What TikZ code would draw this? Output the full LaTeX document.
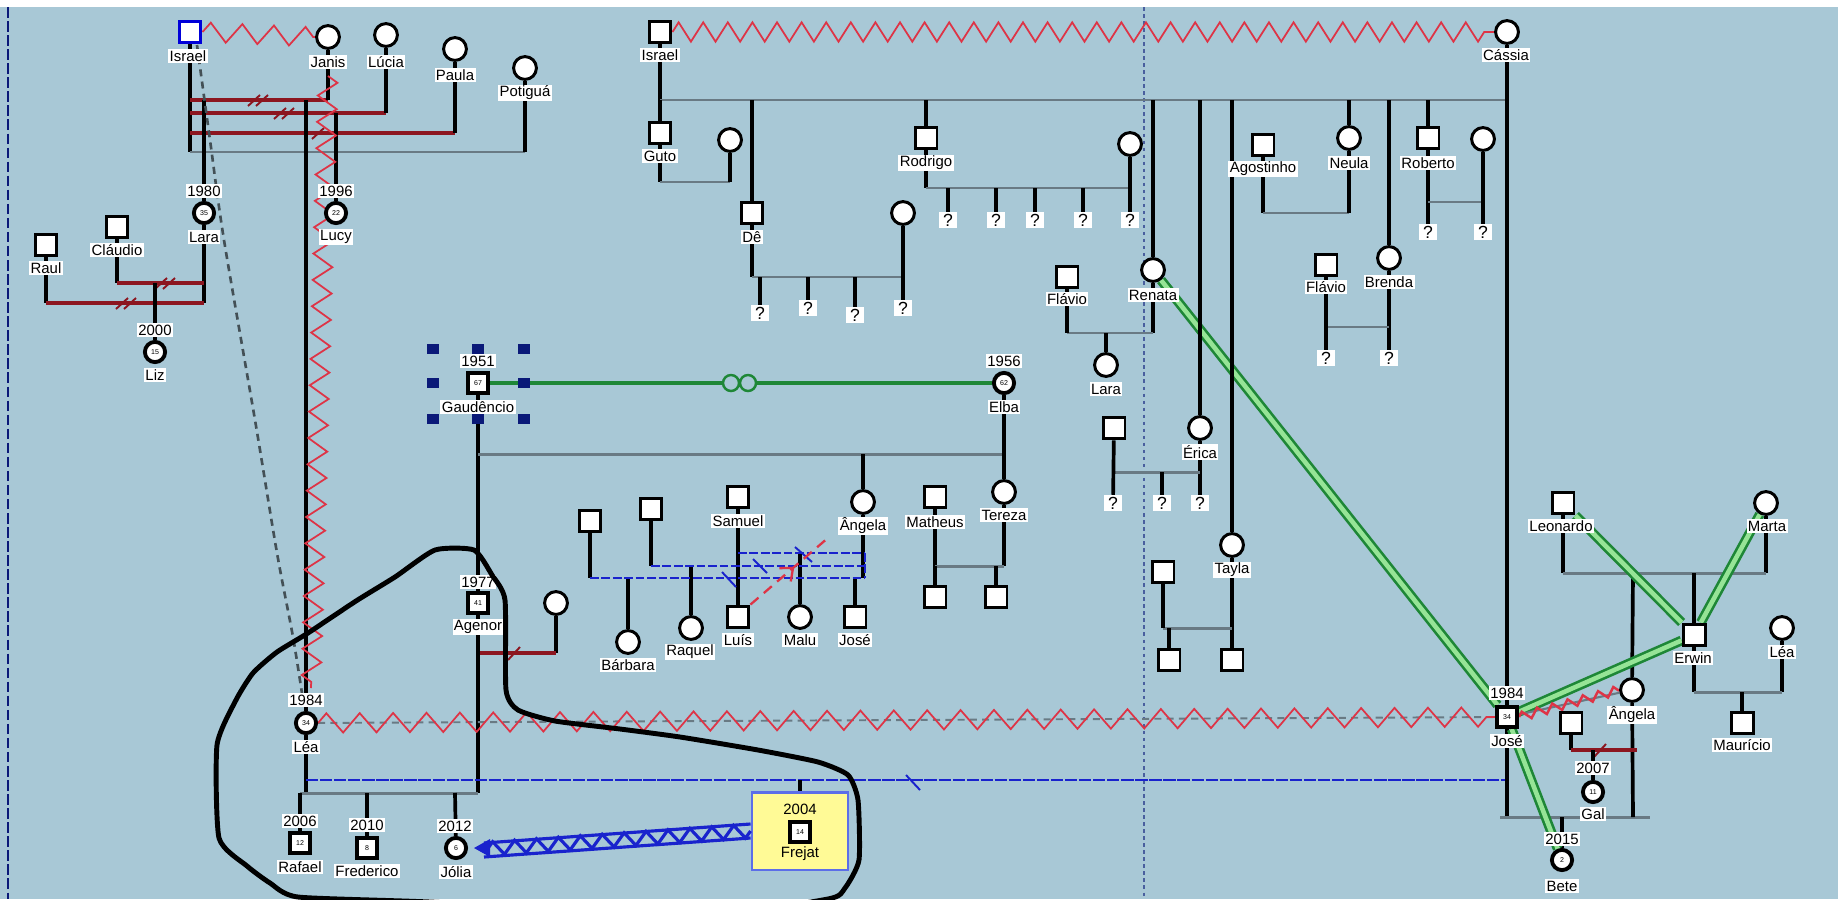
\documentclass[tikz,border=0pt]{standalone}
\usepackage{fontspec}
\setmainfont{Liberation Sans}
\usetikzlibrary{calc,decorations.pathmorphing,decorations.markings,arrows.meta}

\definecolor{azulfundo}{RGB}{168,200,214}
\definecolor{zigred}{RGB}{222,52,70}
\definecolor{casred}{RGB}{140,22,32}
\definecolor{irmgray}{RGB}{105,122,132}
\definecolor{verde}{RGB}{30,135,55}
\definecolor{verdecl}{RGB}{150,228,150}
\definecolor{azul}{RGB}{25,35,205}
\definecolor{marinho}{RGB}{10,25,120}
\definecolor{amarelo}{RGB}{255,250,150}

\pgfdeclarelayer{camadafundo}
\pgfdeclarelayer{linhas}
\pgfsetlayers{camadafundo,linhas,main}

\tikzset{
  homem/.style={draw=black, fill=white, line width=1.7pt, minimum size=12.5pt, inner sep=0pt},
  mulher/.style={homem, circle, minimum size=13pt},
  homemp/.style={homem, minimum size=11.5pt, line width=2.2pt, font=\fontsize{4}{4}\selectfont},
  mulherp/.style={homemp, circle},
  nome/.style={fill=white, inner sep=0.8pt, font=\fontsize{8.5}{9}\selectfont},
  incog/.style={fill=white, inner xsep=2.5pt, inner ysep=1pt, font=\fontsize{10}{11}\selectfont},
  filho/.style={line width=2.1pt},
  irmaos/.style={irmgray, line width=1.7pt},
  casal/.style={casred, line width=2pt},
  corte/.style={line width=1.1pt},
  conflito/.style={zigred, line width=1pt, decorate, decoration={zigzag, segment length=#1, amplitude=5.5pt}},
  conflito/.default=18pt,
  laco/.style={line width=5.6pt, draw=verde, postaction={draw=verdecl, line width=2.6pt}},
  separado/.style={azul, line width=1.5pt, dash pattern=on 5pt off 1.5pt},
  contorno/.style={line width=2.8pt, line join=round},
}

\begin{document}
\begin{tikzpicture}[x=0.02cm, y=-0.02cm, >=Stealth]
\useasboundingbox (0,0) rectangle (1838,899);

% 1. fundo
\begin{pgfonlayer}{camadafundo}
  \fill[azulfundo] (0,0) rectangle (1838,899);
  \fill[white] (0,0) rectangle (1838,7);
  \draw[marinho, line width=1.4pt, dash pattern=on 6pt off 2pt] (8,7) -- (8,899);
  \draw[marinho!60!azulfundo, line width=0.8pt, dash pattern=on 2pt off 2pt] (1144,7) -- (1144,899);
\end{pgfonlayer}

% 2. Israel e as mulheres (esquerda)
\node[homem, draw=blue!85!black] (israelA) at (190,32) {};
\node[nome] (israelA-n) at (188,56) {Israel};
\node[mulher] (janis) at (328,37) {};
\node[nome] (janis-n) at (328,62) {Janis};
\node[mulher] (lucia) at (386,35) {};
\node[nome] (lucia-n) at (386,62) {Lúcia};
\node[mulher] (paula) at (455,49) {};
\node[nome] (paula-n) at (455,75) {Paula};
\node[mulher] (potigua) at (525,68) {};
\node[nome] (potigua-n) at (525,93) {Potiguá};
\node[mulherp] (lara) at (204,213) {35};
\node[nome] (lara-a) at (204,191) {1980};
\node[nome] (lara-n) at (204,237) {Lara};
\node[mulherp] (lucy) at (336,213) {22};
\node[nome] (lucy-a) at (336,191) {1996};
\node[nome] (lucy-n) at (336,237) {Lucy};
\node[homem] (claudio) at (117,227) {};
\node[nome] (claudio-n) at (117,250) {Cláudio};
\node[homem] (raul) at (46,245) {};
\node[nome] (raul-n) at (46,268) {Raul};
\node[mulherp] (liz) at (155,352) {15};
\node[nome] (liz-a) at (155,330) {2000};
\node[nome] (liz-n) at (155,375) {Liz};
\node[mulherp] (lea) at (306,723) {34};
\node[nome] (lea-a) at (306,700) {1984};
\node[nome] (lea-n) at (306,747) {Léa};

% 3. Gaudêncio e Elba
\foreach \x/\y in {433/349, 478/349, 524/349, 433/383, 524/383, 433/419, 478/419, 524/419}
  \fill[marinho] (\x-6,\y-5) rectangle ++(12,10);
\node[homemp] (gaudencio) at (478,383) {67};
\node[nome] (gaudencio-a) at (478,361) {1951};
\node[nome] (gaudencio-n) at (478,407) {Gaudêncio};
\node[mulherp] (elba) at (1004,383) {62};
\node[nome] (elba-a) at (1004,361) {1956};
\node[nome] (elba-n) at (1004,407) {Elba};
\node[homemp] (agenor) at (478,603) {41};
\node[nome] (agenor-a) at (478,582) {1977};
\node[nome] (agenor-n) at (478,627) {Agenor};
\node[mulher] (agwife) at (556,603) {};
\node[mulher] (angelaA) at (863,502) {};
\node[nome] (angelaA-n) at (863,526) {Ângela};
\node[mulher] (tereza) at (1004,492) {};
\node[nome] (tereza-n) at (1004,515) {Tereza};
\node[homem] (matheus) at (935,497) {};
\node[nome] (matheus-n) at (935,522) {Matheus};
\node[homem] (mtA) at (935,597) {};
\node[homem] (mtB) at (996,597) {};
\node[homem] (barbDad) at (590,521) {};
\node[homem] (raqDad) at (651,509) {};
\node[homem] (samuel) at (738,497) {};
\node[nome] (samuel-n) at (738,521) {Samuel};
\node[mulher] (barbara) at (628,642) {};
\node[nome] (barbara-n) at (628,665) {Bárbara};
\node[mulher] (raquel) at (691,628) {};
\node[nome] (raquel-n) at (690,652) {Raquel};
\node[homem] (luis) at (738,617) {};
\node[nome] (luis-n) at (738,640) {Luís};
\node[mulher] (malu) at (800,617) {};
\node[nome] (malu-n) at (800,640) {Malu};
\node[homem] (joseA) at (855,617) {};
\node[nome] (joseA-n) at (855,640) {José};

% 4. filhos de Léa
\node[homemp] (rafael) at (300,843) {12};
\node[nome] (rafael-a) at (300,821) {2006};
\node[nome] (rafael-n) at (300,867) {Rafael};
\node[homemp] (frederico) at (367,848) {8};
\node[nome] (frederico-a) at (367,825) {2010};
\node[nome] (frederico-n) at (367,871) {Frederico};
\node[mulherp] (jolia) at (456,848) {6};
\node[nome] (jolia-a) at (455,826) {2012};
\node[nome] (jolia-n) at (456,872) {Jólia};
\node[draw=blue!45!azulfundo, fill=amarelo, line width=1.3pt, minimum width=55pt, minimum height=44pt] (frejatbox) at (800,831) {};
\node[homemp] (frejat) at (800,832) {14};
\node[font=\fontsize{8.5}{9}\selectfont] (frejat-a) at (800,809) {2004};
\node[font=\fontsize{8.5}{9}\selectfont] (frejat-n) at (800,854) {Frejat};

% 5. Israel e Cássia (topo)
\node[homem] (israelB) at (660,32) {};
\node[nome] (israelB-n) at (660,55) {Israel};
\node[mulher] (cassia) at (1507,32) {};
\node[nome] (cassia-n) at (1506,55) {Cássia};
\node[homem] (guto) at (660,133) {};
\node[nome] (guto-n) at (660,156) {Guto};
\node[mulher] (gutoW) at (730,140) {};
\node[homem] (de) at (752,213) {};
\node[nome] (de-n) at (752,237) {Dê};
\node[mulher] (deW) at (903,213) {};
\foreach \x/\y [count=\i] in {760/313, 808/308, 855/315, 903/308}
  \node[incog] (deq\i) at (\x,\y) {?};
\node[homem] (rodrigo) at (926,138) {};
\node[nome] (rodrigo-n) at (926,163) {Rodrigo};
\node[mulher] (rodW) at (1130,144) {};
\foreach \x [count=\i] in {948, 996, 1035, 1083, 1130}
  \node[incog] (rodq\i) at (\x,220) {?};
\node[mulher] (renata) at (1153,270) {};
\node[nome] (renata-n) at (1153,295) {Renata};
\node[homem] (flavioA) at (1067,277) {};
\node[nome] (flavioA-n) at (1067,299) {Flávio};
\node[mulher] (laraB) at (1106,365) {};
\node[nome] (laraB-n) at (1106,389) {Lara};
\node[mulher] (erica) at (1200,428) {};
\node[nome] (erica-n) at (1200,452) {Érica};
\node[homem] (ericaH) at (1114,428) {};
\foreach \x [count=\i] in {1113, 1162, 1200}
  \node[incog] (ericaq\i) at (\x,503) {?};
\node[mulher] (tayla) at (1232,545) {};
\node[nome] (tayla-n) at (1232,570) {Tayla};
\node[homem] (taylaH) at (1163,572) {};
\node[homem] (taylaK1) at (1169,660) {};
\node[homem] (taylaK2) at (1232,660) {};
\node[homem] (agostinho) at (1263,145) {};
\node[nome] (agostinho-n) at (1263,169) {Agostinho};
\node[mulher] (neula) at (1349,138) {};
\node[nome] (neula-n) at (1349,163) {Neula};
\node[homem] (roberto) at (1428,138) {};
\node[nome] (roberto-n) at (1428,163) {Roberto};
\node[mulher] (robW) at (1483,139) {};
\node[incog] (robq1) at (1428,232) {?};
\node[incog] (robq2) at (1483,232) {?};
\node[mulher] (brenda) at (1389,258) {};
\node[nome] (brenda-n) at (1389,282) {Brenda};
\node[homem] (flavioB) at (1326,265) {};
\node[nome] (flavioB-n) at (1326,287) {Flávio};
\node[incog] (brenq1) at (1326,358) {?};
\node[incog] (brenq2) at (1389,358) {?};

% 6. José e a família da direita
\node[homemp] (joseB) at (1507,717) {34};
\node[nome] (joseB-a) at (1507,693) {1984};
\node[nome] (joseB-n) at (1507,741) {José};
\node[homem] (leonardo) at (1563,503) {};
\node[nome] (leonardo-n) at (1561,526) {Leonardo};
\node[mulher] (marta) at (1766,503) {};
\node[nome] (marta-n) at (1767,526) {Marta};
\node[mulher] (angelaB) at (1632,690) {};
\node[nome] (angelaB-n) at (1632,715) {Ângela};
\node[homem] (erwin) at (1694,635) {};
\node[nome] (erwin-n) at (1693,658) {Erwin};
\node[mulher] (leaB) at (1782,628) {};
\node[nome] (leaB-n) at (1782,652) {Léa};
\node[homem] (mauricio) at (1742,723) {};
\node[nome] (mauricio-n) at (1742,745) {Maurício};
\node[homem] (galDad) at (1571,723) {};
\node[mulherp] (gal) at (1593,792) {11};
\node[nome] (gal-a) at (1593,768) {2007};
\node[nome] (gal-n) at (1593,814) {Gal};
\node[mulherp] (bete) at (1562,860) {2};
\node[nome] (bete-a) at (1562,839) {2015};
\node[nome] (bete-n) at (1562,886) {Bete};

% 7. linhas
\begin{pgfonlayer}{linhas}
  % Israel (esquerda)
  \draw[conflito=18pt] (israelA.east) -- (janis.west);
  \draw[filho] (israelA) -- (190,152);
  \draw[casal] (190,100) -- (328,100);
  \draw[casal] (190,113) -- (386,113);
  \draw[casal] (190,133) -- (455,133);
  \draw[irmaos] (190,152) -- (525,152);
  \draw[filho] (janis) -- (328,100);
  \draw[filho] (lucia) -- (386,113);
  \draw[filho] (paula) -- (455,133);
  \draw[filho] (potigua) -- (525,152);
  \draw[casal, corte] (248,106) -- (260,95) (256,106) -- (268,95);
  \draw[casal, corte] (274,119) -- (286,108) (282,119) -- (294,108);
  \draw[casal, corte] (312,139) -- (324,128);
  \draw[filho] (204,100) -- (lara);
  \draw[filho] (306,100) -- (lea);
  \draw[filho] (336,113) -- (lucy);
  \draw[conflito=15pt] (328,76) -- (311,688);
  \draw[filho] (lara) -- (204,303);
  \draw[filho] (claudio) -- (117,283);
  \draw[filho] (raul) -- (46,303);
  \draw[casal] (117,283) -- (204,283);
  \draw[casal] (46,303) -- (204,303);
  \draw[casal, corte] (155,289) -- (167,278) (163,289) -- (175,278);
  \draw[casal, corte] (116,309) -- (128,298) (124,309) -- (136,298);
  \draw[filho] (155,283) -- (liz);
  \draw[black!60!azulfundo, line width=1.5pt, dash pattern=on 4pt off 3pt]
    plot[smooth] coordinates {(197,45) (210,140) (224,240) (255,420) (277,553) (293,637) (303,700)};

  % Gaudêncio e Elba
  \draw[verde, line width=1.8pt] (gaudencio) -- (723,383) (756,383) -- (elba);
  \draw[verde, line width=1.4pt] (731,383) circle[radius=8] (748,383) circle[radius=8];
  \draw[filho] (gaudencio) -- (agenor);
  \draw[irmaos] (478,454) -- (1004,454);
  \draw[filho] (elba) -- (tereza);
  \draw[filho] (863,454) -- (angelaA);
  \draw[filho] (tereza) -- (1004,566);
  \draw[filho] (matheus) -- (935,566);
  \draw[irmaos] (935,566) -- (1004,566);
  \draw[filho] (935,566) -- (mtA);
  \draw[filho] (996,566) -- (mtB);

  % Ângela e os companheiros
  \draw[filho] (barbDad) -- (590,578);
  \draw[filho] (raqDad) -- (651,566);
  \draw[filho] (samuel) -- (luis);
  \draw[filho] (angelaA) -- (863,578);
  \draw[filho] (855,578) -- (joseA);
  \draw[filho] (628,578) -- (barbara);
  \draw[filho] (691,566) -- (raquel);
  \draw[filho] (800,553) -- (malu);
  \draw[separado] (590,578) -- (865,578);
  \draw[separado] (651,566) -- (865,566);
  \draw[separado] (738,553) -- (865,553);
  \draw[separado] (865,553) -- (865,578);
  \draw[azul, corte] (722,572) -- (736,587) (753,559) -- (767,573) (795,547) -- (812,562);
  \draw[zigred, line width=1.3pt, dash pattern=on 6pt off 4pt, postaction={decorate},
    decoration={markings, mark=at position 0.56 with {\arrow{Straight Barb[length=6pt,width=10pt]}}}]
    (luis.north east) -- (829,537);

  % Agenor e Léa
  \draw[filho] (agwife) -- (556,653);
  \draw[casal] (478,653) -- (556,653);
  \draw[casal, corte] (508,660) -- (520,647);
  \draw[filho] (agenor) -- (478,793);
  \draw[filho] (lea) -- (306,793);
  \draw[irmaos] (300,793) -- (478,793);
  \draw[filho] (300,793) -- (rafael);
  \draw[filho] (367,793) -- (frederico);
  \draw[filho] (455,793) -- (jolia);
  \draw[azul, line width=1.3pt, dash pattern=on 7pt off 1pt] (306,780) -- (1507,780);
  \draw[azul, corte] (906,775) -- (920,790);
  \draw[filho] (800,780) -- (frejatbox.north);
  \draw[irmgray, line width=1.1pt, dash pattern=on 4pt off 3pt] (lea) -- (joseB);
  \draw[conflito=19pt] (lea.east) -- (joseB.west);

  % Israel e Cássia
  \draw[conflito=14pt] (israelB.east) -- (cassia.west);
  \draw[filho] (israelB) -- (660,100);
  \draw[irmaos] (660,100) -- (1507,100);
  \draw[filho] (cassia) -- (joseB);
  \draw[filho] (660,100) -- (guto);
  \draw[filho] (guto) -- (660,182);
  \draw[irmaos] (660,182) -- (730,182);
  \draw[filho] (gutoW) -- (730,182);
  \draw[filho] (752,100) -- (de);
  \draw[filho] (de) -- (752,277);
  \draw[irmaos] (752,277) -- (903,277);
  \draw[filho] (deW) -- (903,277);
  \foreach \i/\x in {1/760, 2/808, 3/855, 4/903}
    \draw[filho] (\x,277) -- (deq\i);
  \draw[filho] (926,100) -- (rodrigo);
  \draw[filho] (rodrigo) -- (926,188);
  \draw[irmaos] (926,188) -- (1130,188);
  \draw[filho] (rodW) -- (rodq5);
  \foreach \i/\x in {1/948, 2/996, 3/1035, 4/1083}
    \draw[filho] (\x,188) -- (rodq\i);
  \draw[filho] (1153,100) -- (renata);
  \draw[filho] (renata) -- (1153,333);
  \draw[irmaos] (1067,333) -- (1153,333);
  \draw[filho] (flavioA) -- (1067,333);
  \draw[filho] (1106,333) -- (laraB);
  \draw[laco] (renata) -- (joseB);
  \draw[filho] (1200,100) -- (erica);
  \draw[filho] (erica) -- (ericaq3);
  \draw[irmaos] (1114,472) -- (1200,472);
  \draw[filho] (ericaH) -- (ericaq1);
  \draw[filho] (1162,472) -- (ericaq2);
  \draw[filho] (1232,100) -- (tayla);
  \draw[filho] (tayla) -- (taylaK2);
  \draw[irmaos] (1163,628) -- (1232,628);
  \draw[filho] (taylaH) -- (1163,628);
  \draw[filho] (1169,628) -- (taylaK1);
  \draw[filho] (agostinho) -- (1263,213);
  \draw[irmaos] (1263,213) -- (1349,213);
  \draw[filho] (1349,100) -- (neula);
  \draw[filho] (neula) -- (1349,213);
  \draw[filho] (1428,100) -- (roberto);
  \draw[filho] (roberto) -- (robq1);
  \draw[irmaos] (1428,202) -- (1483,202);
  \draw[filho] (robW) -- (robq2);
  \draw[filho] (1389,100) -- (brenda);
  \draw[filho] (brenda) -- (brenq2);
  \draw[irmaos] (1326,327) -- (1389,327);
  \draw[filho] (flavioB) -- (brenq1);

  % José e a família da direita
  \draw[filho] (leonardo) -- (1563,573);
  \draw[filho] (marta) -- (1766,573);
  \draw[irmaos] (1563,573) -- (1766,573);
  \draw[filho] (1633,573) -- (angelaB);
  \draw[filho] (1694,573) -- (erwin);
  \draw[filho] (erwin) -- (1694,692);
  \draw[filho] (leaB) -- (1782,692);
  \draw[irmaos] (1694,692) -- (1782,692);
  \draw[filho] (1742,692) -- (mauricio);
  \draw[filho] (joseB) -- (1507,817);
  \draw[irmaos] (1500,817) -- (1650,817);
  \draw[filho] (angelaB) -- (1633,817);
  \draw[filho] (1562,817) -- (bete);
  \draw[filho] (galDad) -- (1571,750);
  \draw[casal] (1571,750) -- (1637,750);
  \draw[casal, corte] (1594,757) -- (1606,744);
  \draw[filho] (1593,750) -- (gal);
  \draw[laco] (joseB) -- (bete);
  \draw[laco] (joseB) -- (erwin);
  \draw[laco] (leonardo) -- (erwin);
  \draw[laco] (marta) -- (erwin);
  \draw[irmgray, line width=1.2pt] (joseB) -- (angelaB);
  \draw[zigred, line width=1.4pt, decorate, decoration={zigzag, segment length=9pt, amplitude=2.5pt}]
    (joseB.east) -- (angelaB.west);
\end{pgfonlayer}

% 8. seta azul de Frejat para Jólia
\coordinate (setaA) at (484,849);
\draw[azul, line width=1.8pt] (frejatbox.west) ++(0,-7) -- ($(setaA)+(0,-6)$);
\draw[azul, line width=1.8pt] (frejatbox.west) ++(0,7) -- ($(setaA)+(0,8)$);
\draw[azul, line width=1.8pt, decorate, decoration={zigzag, segment length=12.5pt, amplitude=3.8pt}] (frejatbox.west) -- (setaA);
\fill[azul] (jolia.east) ++(6,0) -- ++(16,-9) -- ++(0,18) -- cycle;

% 9. contorno da família nuclear
\draw[contorno] plot[smooth cycle, tension=0.35] coordinates {
  (435,550) (474,550) (492,575) (505,600) (506,690) (518,710) (555,721) (620,729)
  (680,737) (758,750) (818,762) (848,775) (858,800) (859,860) (845,888) (828,899)
  (700,915) (430,902) (298,897) (270,883) (247,866) (219,838) (217,745) (236,700)
  (253,673) (277,652) (308,633) (356,601) (395,577)};

\end{tikzpicture}
\end{document}
